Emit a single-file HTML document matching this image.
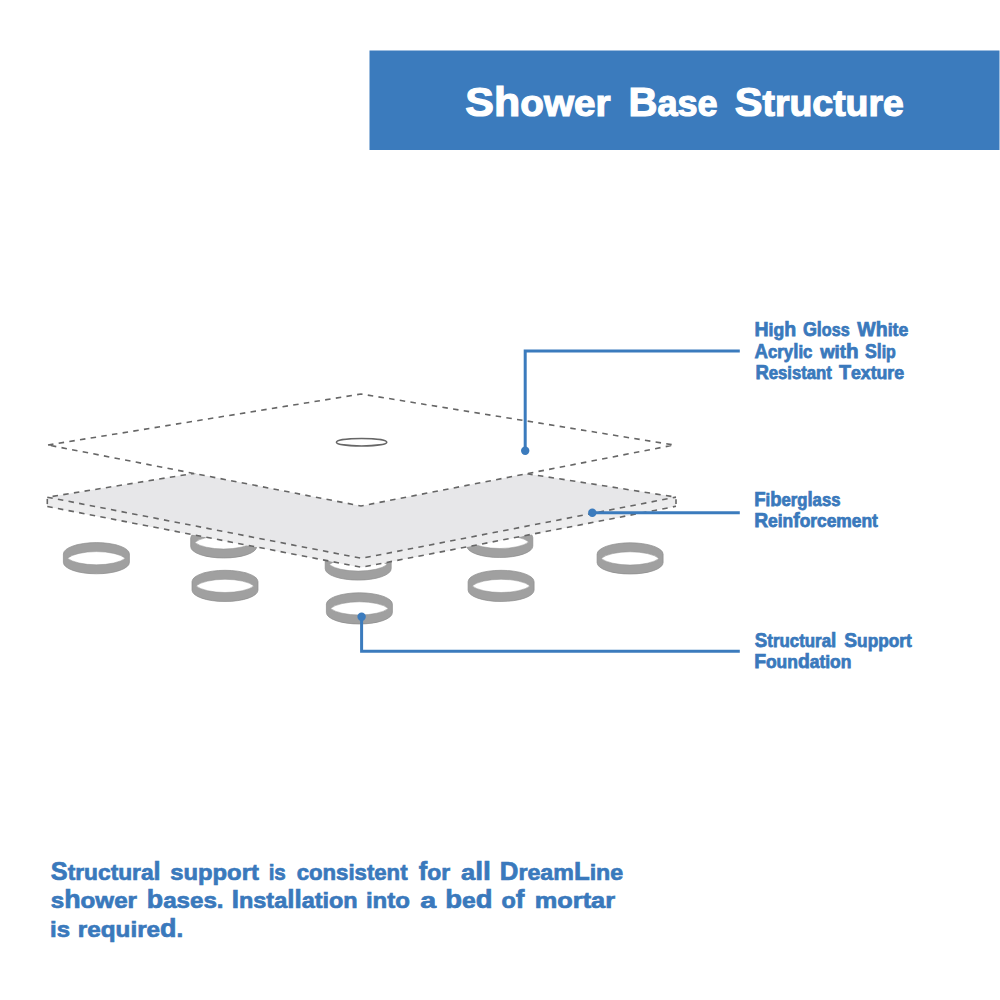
<!DOCTYPE html>
<html><head><meta charset="utf-8"><style>
html,body{margin:0;padding:0;background:#fff;width:1000px;height:1000px;overflow:hidden}
svg{display:block}
text{font-family:"Liberation Sans",sans-serif;font-weight:bold}
</style></head><body>
<svg width="1000" height="1000" viewBox="0 0 1000 1000">
<path d="M190.70,538.20 A33.0,11.4 0 0 1 256.70,538.20 L256.70,546.60 A33.0,11.4 0 0 1 190.70,546.60 Z" fill="#a0a0a0" stroke="#8c8c8c" stroke-width="0.7"/><path d="M194.77,542.40 A31.4,10.8 0 0 1 252.63,542.40 A31.4,10.8 0 0 1 194.77,542.40 Z" fill="#fff" stroke="#8c8c8c" stroke-width="0.5"/>
<path d="M466.80,537.70 A33.0,11.4 0 0 1 532.80,537.70 L532.80,546.10 A33.0,11.4 0 0 1 466.80,546.10 Z" fill="#a0a0a0" stroke="#8c8c8c" stroke-width="0.7"/><path d="M470.87,541.90 A31.4,10.8 0 0 1 528.73,541.90 A31.4,10.8 0 0 1 470.87,541.90 Z" fill="#fff" stroke="#8c8c8c" stroke-width="0.5"/>
<path d="M325.20,560.30 A33.0,11.4 0 0 1 391.20,560.30 L391.20,568.70 A33.0,11.4 0 0 1 325.20,568.70 Z" fill="#a0a0a0" stroke="#8c8c8c" stroke-width="0.7"/><path d="M329.27,564.50 A31.4,10.8 0 0 1 387.13,564.50 A31.4,10.8 0 0 1 329.27,564.50 Z" fill="#fff" stroke="#8c8c8c" stroke-width="0.5"/>
<polygon points="47.3,497.2 356.5,447 676,497.1 676,506.3 361.5,567.3 47.3,506.5" fill="#e7e7e9"/>
<polygon points="47.3,497.2 361.5,558.3 676,497.1 676,506.3 361.5,567.3 47.3,506.5" fill="#ededee"/>
<polyline points="47.3,497.2 361.5,558.3 676,497.1" stroke="#666666" stroke-width="1.6" stroke-dasharray="5.5 5.3" fill="none"/>
<polyline points="47.3,506.5 361.5,567.3 676,506.3" stroke="#666666" stroke-width="1.6" stroke-dasharray="5.5 5.3" fill="none"/>
<polyline points="356.5,447 47.3,497.2" stroke="#666666" stroke-width="1.6" stroke-dasharray="5.5 5.3" fill="none"/>
<polyline points="356.5,447 676,497.1" stroke="#666666" stroke-width="1.6" stroke-dasharray="5.5 5.3" fill="none"/>
<line x1="47.3" y1="498.9" x2="47.3" y2="504.1" stroke="#666666" stroke-width="1.6"/>
<line x1="676" y1="499.2" x2="676" y2="503.9" stroke="#666666" stroke-width="1.6"/>
<polygon points="48,445 361,394 674,445 361,506" fill="#fff"/>
<polygon points="48,445 361,394 674,445 361,506" stroke="#666666" stroke-width="1.6" stroke-dasharray="5.5 5.3" fill="none"/>
<ellipse cx="361.6" cy="442.2" rx="25.2" ry="3.7" fill="none" stroke="#666" stroke-width="1.5"/>
<path d="M63.40,554.00 A33.0,11.4 0 0 1 129.40,554.00 L129.40,562.40 A33.0,11.4 0 0 1 63.40,562.40 Z" fill="#a0a0a0" stroke="#8c8c8c" stroke-width="0.7"/><path d="M67.47,558.20 A31.4,10.8 0 0 1 125.33,558.20 A31.4,10.8 0 0 1 67.47,558.20 Z" fill="#fff" stroke="#8c8c8c" stroke-width="0.5"/>
<path d="M597.10,554.20 A33.0,11.4 0 0 1 663.10,554.20 L663.10,562.60 A33.0,11.4 0 0 1 597.10,562.60 Z" fill="#a0a0a0" stroke="#8c8c8c" stroke-width="0.7"/><path d="M601.17,558.40 A31.4,10.8 0 0 1 659.03,558.40 A31.4,10.8 0 0 1 601.17,558.40 Z" fill="#fff" stroke="#8c8c8c" stroke-width="0.5"/>
<path d="M192.00,581.70 A33.0,11.4 0 0 1 258.00,581.70 L258.00,590.10 A33.0,11.4 0 0 1 192.00,590.10 Z" fill="#a0a0a0" stroke="#8c8c8c" stroke-width="0.7"/><path d="M196.07,585.90 A31.4,10.8 0 0 1 253.93,585.90 A31.4,10.8 0 0 1 196.07,585.90 Z" fill="#fff" stroke="#8c8c8c" stroke-width="0.5"/>
<path d="M468.10,581.70 A33.0,11.4 0 0 1 534.10,581.70 L534.10,590.10 A33.0,11.4 0 0 1 468.10,590.10 Z" fill="#a0a0a0" stroke="#8c8c8c" stroke-width="0.7"/><path d="M472.17,585.90 A31.4,10.8 0 0 1 530.03,585.90 A31.4,10.8 0 0 1 472.17,585.90 Z" fill="#fff" stroke="#8c8c8c" stroke-width="0.5"/>
<path d="M326.40,604.20 A33.0,11.4 0 0 1 392.40,604.20 L392.40,612.60 A33.0,11.4 0 0 1 326.40,612.60 Z" fill="#a0a0a0" stroke="#8c8c8c" stroke-width="0.7"/><path d="M330.47,608.40 A31.4,10.8 0 0 1 388.33,608.40 A31.4,10.8 0 0 1 330.47,608.40 Z" fill="#fff" stroke="#8c8c8c" stroke-width="0.5"/>
<polyline points="525.2,451 525.2,351 739.8,351" fill="none" stroke="#3b7bbd" stroke-width="3"/>
<circle cx="525.2" cy="450.8" r="4.2" fill="#3b7bbd"/>
<line x1="592" y1="512.7" x2="739.8" y2="512.7" stroke="#3b7bbd" stroke-width="3"/>
<circle cx="592.3" cy="512.7" r="4.2" fill="#3b7bbd"/>
<polyline points="361.6,617 361.6,651.3 739.8,651.3" fill="none" stroke="#3b7bbd" stroke-width="3"/>
<circle cx="361.6" cy="616.8" r="4.2" fill="#3b7bbd"/>
<rect x="369.5" y="50.5" width="630" height="99.5" fill="#3b7bbd"/>
<text x="465.31" y="115.8" font-size="37.02" fill="#fff" stroke="#fff" stroke-width="1.2" textLength="145.27" lengthAdjust="spacingAndGlyphs"><tspan font-size="41.13">Sh</tspan>ower</text>
<text x="628.39" y="115.8" font-size="37.02" fill="#fff" stroke="#fff" stroke-width="1.2" textLength="89.27" lengthAdjust="spacingAndGlyphs"><tspan font-size="41.13">B</tspan>ase</text>
<text x="734.75" y="115.8" font-size="37.02" fill="#fff" stroke="#fff" stroke-width="1.2" textLength="169.10" lengthAdjust="spacingAndGlyphs"><tspan font-size="41.13">S</tspan>tructure</text>
<text x="754.53" y="336.1" font-size="17.66" fill="#3a79bc" stroke="#3a79bc" stroke-width="0.75" textLength="41.59" lengthAdjust="spacingAndGlyphs"><tspan font-size="19.62">H</tspan>ig<tspan font-size="19.62">h</tspan></text>
<text x="802.88" y="336.1" font-size="17.66" fill="#3a79bc" stroke="#3a79bc" stroke-width="0.75" textLength="46.77" lengthAdjust="spacingAndGlyphs"><tspan font-size="19.62">Gl</tspan>oss</text>
<text x="857.30" y="336.1" font-size="17.66" fill="#3a79bc" stroke="#3a79bc" stroke-width="0.75" textLength="50.89" lengthAdjust="spacingAndGlyphs"><tspan font-size="19.62">Wh</tspan>ite</text>
<text x="754.53" y="357.7" font-size="17.66" fill="#3a79bc" stroke="#3a79bc" stroke-width="0.75" textLength="57.87" lengthAdjust="spacingAndGlyphs"><tspan font-size="19.62">A</tspan>cry<tspan font-size="19.62">l</tspan>ic</text>
<text x="820.20" y="357.7" font-size="17.66" fill="#3a79bc" stroke="#3a79bc" stroke-width="0.75" textLength="38.35" lengthAdjust="spacingAndGlyphs">wit<tspan font-size="19.62">h</tspan></text>
<text x="864.97" y="357.7" font-size="17.66" fill="#3a79bc" stroke="#3a79bc" stroke-width="0.75" textLength="30.84" lengthAdjust="spacingAndGlyphs"><tspan font-size="19.62">Sl</tspan>ip</text>
<text x="755.39" y="379.3" font-size="17.66" fill="#3a79bc" stroke="#3a79bc" stroke-width="0.75" textLength="76.46" lengthAdjust="spacingAndGlyphs"><tspan font-size="19.62">R</tspan>esistant</text>
<text x="838.90" y="379.3" font-size="17.66" fill="#3a79bc" stroke="#3a79bc" stroke-width="0.75" textLength="65.23" lengthAdjust="spacingAndGlyphs"><tspan font-size="19.62">T</tspan>exture</text>
<text x="754.19" y="506.2" font-size="17.66" fill="#3a79bc" stroke="#3a79bc" stroke-width="0.75" textLength="86.29" lengthAdjust="spacingAndGlyphs"><tspan font-size="19.62">F</tspan>i<tspan font-size="19.62">b</tspan>erg<tspan font-size="19.62">l</tspan>ass</text>
<text x="754.15" y="527.4" font-size="17.66" fill="#3a79bc" stroke="#3a79bc" stroke-width="0.75" textLength="123.69" lengthAdjust="spacingAndGlyphs"><tspan font-size="19.62">R</tspan>ein<tspan font-size="19.62">f</tspan>orcement</text>
<text x="754.84" y="646.6" font-size="17.66" fill="#3a79bc" stroke="#3a79bc" stroke-width="0.75" textLength="81.39" lengthAdjust="spacingAndGlyphs"><tspan font-size="19.62">S</tspan>tructura<tspan font-size="19.62">l</tspan></text>
<text x="844.33" y="646.6" font-size="17.66" fill="#3a79bc" stroke="#3a79bc" stroke-width="0.75" textLength="67.39" lengthAdjust="spacingAndGlyphs"><tspan font-size="19.62">S</tspan>upport</text>
<text x="754.14" y="667.7" font-size="17.66" fill="#3a79bc" stroke="#3a79bc" stroke-width="0.75" textLength="97.24" lengthAdjust="spacingAndGlyphs"><tspan font-size="19.62">F</tspan>oun<tspan font-size="19.62">d</tspan>ation</text>
<text x="50.84" y="879.6" font-size="22.50" fill="#3a79bc" stroke="#3a79bc" stroke-width="0.7" textLength="109.81" lengthAdjust="spacingAndGlyphs"><tspan font-size="25.00">S</tspan>tructura<tspan font-size="25.00">l</tspan></text>
<text x="170.21" y="879.6" font-size="22.50" fill="#3a79bc" stroke="#3a79bc" stroke-width="0.7" textLength="88.65" lengthAdjust="spacingAndGlyphs">support</text>
<text x="268.63" y="879.6" font-size="22.50" fill="#3a79bc" stroke="#3a79bc" stroke-width="0.7" textLength="17.19" lengthAdjust="spacingAndGlyphs">is</text>
<text x="296.64" y="879.6" font-size="22.50" fill="#3a79bc" stroke="#3a79bc" stroke-width="0.7" textLength="110.93" lengthAdjust="spacingAndGlyphs">consistent</text>
<text x="418.82" y="879.6" font-size="22.50" fill="#3a79bc" stroke="#3a79bc" stroke-width="0.7" textLength="31.31" lengthAdjust="spacingAndGlyphs"><tspan font-size="25.00">f</tspan>or</text>
<text x="460.99" y="879.6" font-size="22.50" fill="#3a79bc" stroke="#3a79bc" stroke-width="0.7" textLength="29.88" lengthAdjust="spacingAndGlyphs">a<tspan font-size="25.00">ll</tspan></text>
<text x="499.82" y="879.6" font-size="22.50" fill="#3a79bc" stroke="#3a79bc" stroke-width="0.7" textLength="123.35" lengthAdjust="spacingAndGlyphs"><tspan font-size="25.00">D</tspan>ream<tspan font-size="25.00">L</tspan>ine</text>
<text x="50.80" y="908.4" font-size="22.50" fill="#3a79bc" stroke="#3a79bc" stroke-width="0.7" textLength="86.16" lengthAdjust="spacingAndGlyphs">s<tspan font-size="25.00">h</tspan>ower</text>
<text x="146.76" y="908.4" font-size="22.50" fill="#3a79bc" stroke="#3a79bc" stroke-width="0.7" textLength="76.80" lengthAdjust="spacingAndGlyphs"><tspan font-size="25.00">b</tspan>ases.</text>
<text x="231.71" y="908.4" font-size="22.50" fill="#3a79bc" stroke="#3a79bc" stroke-width="0.7" textLength="126.00" lengthAdjust="spacingAndGlyphs"><tspan font-size="25.00">I</tspan>nsta<tspan font-size="25.00">ll</tspan>ation</text>
<text x="365.90" y="908.4" font-size="22.50" fill="#3a79bc" stroke="#3a79bc" stroke-width="0.7" textLength="44.02" lengthAdjust="spacingAndGlyphs">into</text>
<text x="420.21" y="908.4" font-size="22.50" fill="#3a79bc" stroke="#3a79bc" stroke-width="0.7" textLength="15.85" lengthAdjust="spacingAndGlyphs">a</text>
<text x="445.22" y="908.4" font-size="22.50" fill="#3a79bc" stroke="#3a79bc" stroke-width="0.7" textLength="47.23" lengthAdjust="spacingAndGlyphs"><tspan font-size="25.00">b</tspan>e<tspan font-size="25.00">d</tspan></text>
<text x="501.59" y="908.4" font-size="22.50" fill="#3a79bc" stroke="#3a79bc" stroke-width="0.7" textLength="22.95" lengthAdjust="spacingAndGlyphs">o<tspan font-size="25.00">f</tspan></text>
<text x="534.81" y="908.4" font-size="22.50" fill="#3a79bc" stroke="#3a79bc" stroke-width="0.7" textLength="80.23" lengthAdjust="spacingAndGlyphs">mortar</text>
<text x="50.01" y="937.4" font-size="22.50" fill="#3a79bc" stroke="#3a79bc" stroke-width="0.7" textLength="19.94" lengthAdjust="spacingAndGlyphs">is</text>
<text x="77.88" y="937.4" font-size="22.50" fill="#3a79bc" stroke="#3a79bc" stroke-width="0.7" textLength="105.39" lengthAdjust="spacingAndGlyphs">require<tspan font-size="25.00">d</tspan>.</text>
</svg>
</body></html>
